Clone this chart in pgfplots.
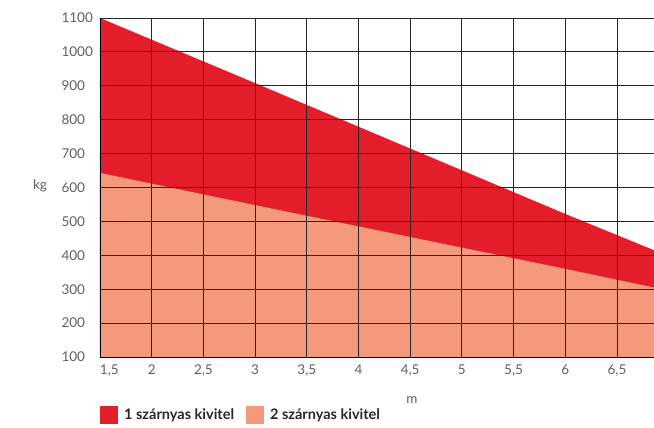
\documentclass[border=0pt]{standalone}
\usepackage{fontspec}
\setmainfont{Lato}
\usepackage{pgfplots}
\pgfplotsset{compat=1.18}
\definecolor{cRed}{HTML}{E31E2A}
\definecolor{cSalmon}{HTML}{F4997B}
\definecolor{cTick}{HTML}{5F5F5F}
\begin{document}
\begin{tikzpicture}[x=1pt,y=1pt]
\useasboundingbox (-100,-71) rectangle (554,357);
\begin{axis}[
  at={(0,0)}, anchor=south west,
  scale only axis, width=554pt, height=339pt,
  xmin=1.5, xmax=6.858, ymin=100, ymax=1100,
  xtick={1.5,2,2.5,3,3.5,4,4.5,5,5.5,6,6.5},
  xticklabels={{\makebox[0pt][l]{1,5}},2,{2,5},3,{3,5},4,{4,5},5,{5,5},6,{6,5}},
  ytick={100,200,...,1100},
  major tick length=0pt,
  grid=major,
  major grid style={black!85, line width=0.8pt},
  axis on top,
  axis x line*=bottom, axis y line*=left,
  axis line style={black, line width=0.9pt, -},
  /pgf/number format/assume math mode=true,
  /pgf/number format/1000 sep={},
  tick label style={font=\fontsize{13.5}{15}\selectfont, text=cTick},
  yticklabel style={anchor=west, xshift=-42pt},
  xticklabel style={yshift=-4pt},
  clip=true,
  legend style={at={(0,-0.145)}, anchor=north west, draw=none, fill=none,
     legend columns=2, font=\fontsize{14.5}{16}\selectfont\bfseries, text=black!85,
     /tikz/every odd column/.append style={column sep=4pt},
     /tikz/every even column/.append style={column sep=10pt}, inner sep=0pt, row sep=0pt},
  legend cell align=left,
  legend image code/.code={\fill[#1] (0pt,-9pt) rectangle (18pt,9pt);},
]
\addplot[fill=cRed, draw=none] coordinates {(1.5,1100) (3,908) (4.5,715) (6,522) (6.858,415)} \closedcycle;
\addlegendentry{1 szárnyas kivitel}
\addplot[fill=cSalmon, draw=none] coordinates {(1.5,643) (3,548) (4.5,454) (6,360) (6.858,305)} \closedcycle;
\addlegendentry{2 szárnyas kivitel}
\end{axis}
\node[font=\fontsize{13.5}{15}\selectfont, text=cTick] at (-60,171) {kg};
\node[font=\fontsize{13.5}{15}\selectfont, text=cTick] at (312,-43) {m};
\end{tikzpicture}
\end{document}
